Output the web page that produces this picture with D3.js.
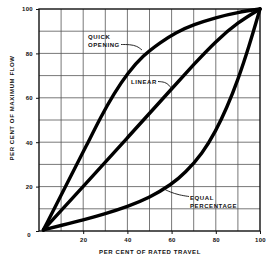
<!DOCTYPE html>
<html>
<head>
<meta charset="utf-8">
<script src="https://cdn.jsdelivr.net/npm/d3@7"></script>
<style>
	body { margin: 0; background: #fff; }
	text { font-family: "Liberation Sans", Arial, sans-serif; font-weight: bold; fill: #111; }
</style>
</head>
<body>
<svg id="chart"></svg>
<script>
// per cent of rated travel -> per cent of maximum flow
const quickTravel = [2, 12, 22, 28, 34, 40, 47, 55, 62, 70, 80, 90, 100];
const quickFlow = [0.5, 20, 39.5, 51.5, 62, 71, 79, 85, 89.5, 93, 96.2, 98.5, 100];
const linearTravel = [2, 20, 40, 60, 70, 80, 90, 100];
const linearFlow = [0.5, 20, 42, 64, 75, 85.5, 94, 100];
const equalTravel = [2, 10, 20, 30, 40, 50, 60, 66, 74, 80, 85, 90, 95, 100];
const equalFlow = [0.5, 2.5, 5, 7.8, 11, 15, 21, 26, 35, 45, 55.5, 68, 83, 100];
const gridValues = [10, 20, 30, 40, 50, 60, 70, 80, 90];
const xTickValues = [20, 40, 60, 80, 100];
const yTickValues = [0, 20, 40, 60, 80, 100];

const width = 270, height = 256;
const svg = d3.select("#chart")
		.attr("width", width)
		.attr("height", height);

const x = d3.scaleLinear().domain([0, 100]).range([39, 260]);
const y = d3.scaleLinear().domain([0, 100]).range([231, 9]);

// grid
svg.append("g")
	.selectAll("line")
	.data(gridValues)
	.enter()
	.append("line")
	.attr("x1", d => x(d)).attr("x2", d => x(d))
	.attr("y1", y(0)).attr("y2", y(100))
	.attr("stroke", "#555").attr("stroke-width", 0.8);
svg.append("g")
	.selectAll("line")
	.data(gridValues)
	.enter()
	.append("line")
	.attr("y1", d => y(d)).attr("y2", d => y(d))
	.attr("x1", x(0)).attr("x2", x(100))
	.attr("stroke", "#555").attr("stroke-width", 0.8);

// frame
svg.append("rect")
	.attr("x", x(0)).attr("y", y(100))
	.attr("width", x(100) - x(0)).attr("height", y(0) - y(100))
	.attr("fill", "none").attr("stroke", "#111").attr("stroke-width", 1.4);

// axes
const xAxis = svg.append("g")
	.attr("transform", "translate(0," + y(0) + ")")
	.call(d3.axisBottom(x).tickValues(xTickValues).tickSize(3).tickPadding(4));
const yAxis = svg.append("g")
	.attr("transform", "translate(" + x(0) + ",0)")
	.call(d3.axisLeft(y).tickValues(yTickValues).tickSize(3).tickPadding(3));
[xAxis, yAxis].forEach(function(a) {
	a.select(".domain").remove();
	a.selectAll("line").attr("stroke", "#111");
	a.selectAll("text")
		.style("font-family", "'Liberation Sans', Arial, sans-serif")
		.style("font-weight", "bold")
		.style("font-size", "6px")
		.style("letter-spacing", "0.3px")
		.attr("fill", "#111");
});
yAxis.selectAll(".tick").filter(d => d === 0).select("text")
	.attr("dy", "0.9em").attr("x", -8);

// curves
const line = d3.line()
	.x(d => x(d[0]))
	.y(d => y(d[1]))
	.curve(d3.curveBasis);
const curves = [
	d3.zip(quickTravel, quickFlow),
	d3.zip(linearTravel, linearFlow),
	d3.zip(equalTravel, equalFlow)
];
svg.append("g")
	.selectAll("path")
	.data(curves)
	.enter()
	.append("path")
	.attr("d", line)
	.attr("fill", "none")
	.attr("stroke", "#000")
	.attr("stroke-width", 3.4)
	.attr("stroke-linecap", "round");

// labels
function label(txt, px, py) {
	svg.append("text")
		.attr("x", px).attr("y", py)
		.style("font-size", "6px")
		.style("letter-spacing", "0.6px")
		.text(txt);
}
label("QUICK", 88, 39);
label("OPENING", 88, 47);
label("LINEAR", 131, 84);
label("EQUAL", 190, 200);
label("PERCENTAGE", 190, 208);

// leader lines
const leaders = [
	[[121, 44.5], [130, 44.5], [137, 46], [142, 50]],
	[[158, 81.5], [165, 82], [169, 85], [172, 89]],
	[[189, 196.5], [179, 195], [170, 192], [164, 189]]
];
svg.append("g")
	.selectAll("path")
	.data(leaders)
	.enter()
	.append("path")
	.attr("d", d3.line().curve(d3.curveBasis))
	.attr("fill", "none")
	.attr("stroke", "#111")
	.attr("stroke-width", 0.9);

// axis titles
svg.append("text")
	.attr("x", 150).attr("y", 254)
	.attr("text-anchor", "middle")
	.style("font-size", "6px")
	.style("letter-spacing", "0.6px")
	.text("PER CENT OF RATED TRAVEL");
svg.append("text")
	.attr("transform", "translate(14,108) rotate(-90)")
	.attr("text-anchor", "middle")
	.style("font-size", "6px")
	.style("letter-spacing", "0.6px")
	.text("PER CENT OF MAXIMUM FLOW");
</script>
</body>
</html>
